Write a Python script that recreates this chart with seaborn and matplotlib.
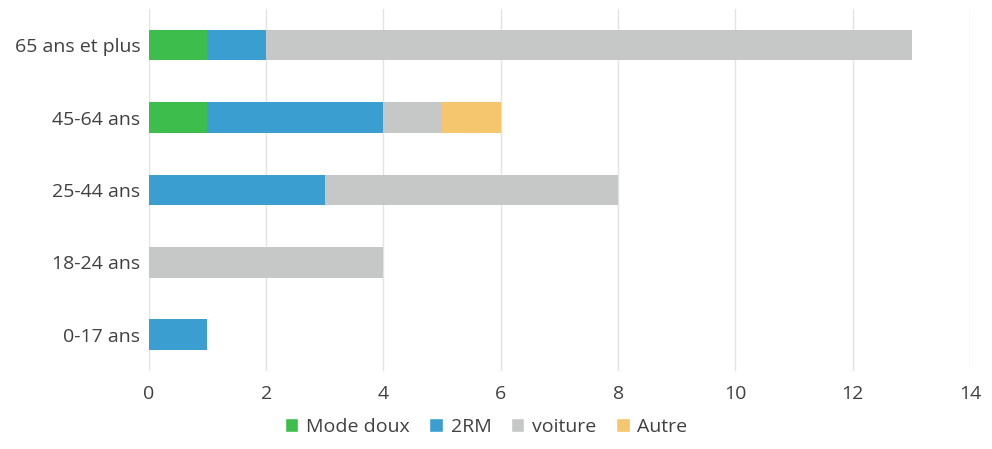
import numpy as np
import pandas as pd
import matplotlib.pyplot as plt
import seaborn as sns
from matplotlib.patches import Patch

categories = ["65 ans et plus", "45-64 ans", "25-44 ans", "18-24 ans", "0-17 ans"]
mode_doux = [1, 1, 0, 0, 0]
deux_rm = [1, 3, 3, 0, 1]
voiture = [11, 1, 5, 4, 0]
autre = [0, 1, 0, 0, 0]

series_names = ["Mode doux", "2RM", "voiture", "Autre"]
colors = ["#3dbd4b", "#3a9fd0", "#c6c8c7", "#f6c66e"]

df = pd.DataFrame({"cat": categories, "Mode doux": mode_doux, "2RM": deux_rm,
                   "voiture": voiture, "Autre": autre})
cum = df[series_names].cumsum(axis=1)

sns.set_theme(style="white")
plt.rcParams['font.family'] = ['Open Sans', 'DejaVu Sans']

fig = plt.figure(figsize=(9.92, 4.49), dpi=100)
ax = fig.add_axes([0.150, 0.174, 0.828, 0.806])

# overlay cumulative totals, longest first
for name, color in reversed(list(zip(series_names, colors))):
    sns.barplot(x=cum[name], y=df["cat"], orient="h", color=color,
                width=0.42, saturation=1, linewidth=0, ax=ax, zorder=3)

ax.set_xlim(0, 14)
ax.set_xticks(np.arange(0, 15, 2))
ax.set_xlabel("")
ax.set_ylabel("")
ax.grid(axis="x", color="#e3e3e3", linewidth=1, zorder=0)
ax.grid(axis="y", visible=False)
sns.despine(ax=ax, left=True, bottom=True)
ax.tick_params(axis="both", length=0, labelsize=14, colors="#404040")
ax.tick_params(axis="x", pad=10)
ax.tick_params(axis="y", pad=6)

handles = [Patch(facecolor=c, label=n) for n, c in zip(series_names, colors)]
fig.legend(handles=handles, loc="lower center", bbox_to_anchor=(0.49, -0.01),
           ncol=4, frameon=False, fontsize=14, handlelength=0.7, handleheight=0.7,
           handletextpad=0.4, columnspacing=1.0, labelcolor="#404040")

fig.savefig("out.png", dpi=100)
